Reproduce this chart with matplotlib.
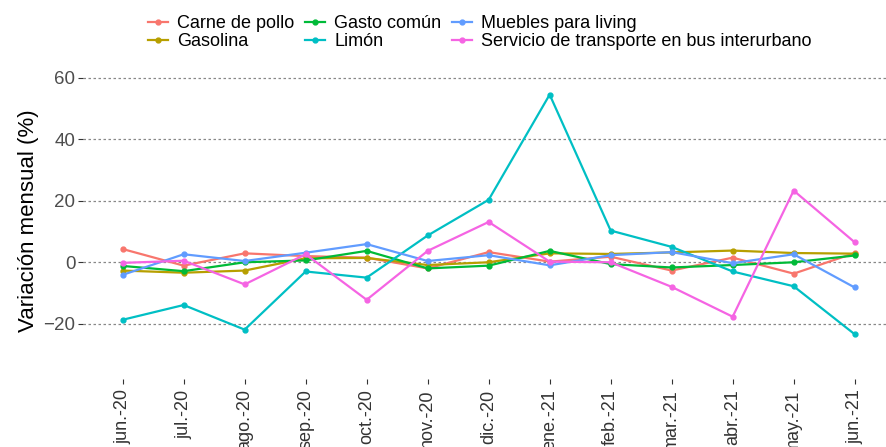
import numpy as np
import matplotlib
matplotlib.use("Agg")
import matplotlib.pyplot as plt

plt.rcParams['font.family'] = ['Liberation Sans', 'DejaVu Sans']

meses = ["jun.-20", "jul.-20", "ago.-20", "sep.-20", "oct.-20", "nov.-20", "dic.-20",
         "ene.-21", "feb.-21", "mar.-21", "abr.-21", "may.-21", "jun.-21"]

carne = [4.3, -1.1, 2.9, 2.0, 1.5, -2.0, 3.3, 0.2, 1.8, -2.7, 1.5, -3.7, 3.0]
gasolina = [-2.7, -3.4, -2.7, 1.3, 1.4, -0.9, 0.0, 2.9, 2.7, 3.2, 3.8, 3.0, 2.8]
gasto = [-1.2, -2.9, 0.0, 0.6, 3.7, -2.0, -1.1, 3.7, -0.6, -1.7, -0.9, 0.0, 2.2]
limon = [-18.7, -13.9, -21.9, -3.0, -5.0, 8.7, 20.3, 54.5, 10.3, 5.0, -3.0, -7.8, -23.4]
muebles = [-4.1, 2.6, 0.4, 3.1, 5.9, 0.4, 2.3, -1.0, 2.3, 3.3, -0.3, 2.6, -8.2]
bus = [-0.2, 0.5, -7.2, 2.6, -12.2, 3.7, 13.1, 0.2, 0.0, -8.0, -17.7, 23.3, 6.5]

series = [("Carne de pollo", carne, "#F8766D"),
          ("Gasolina", gasolina, "#B79F00"),
          ("Gasto común", gasto, "#00BA38"),
          ("Limón", limon, "#00BFC4"),
          ("Muebles para living", muebles, "#619CFF"),
          ("Servicio de transporte en bus interurbano", bus, "#F564E3")]

fig = plt.figure(figsize=(8.87, 4.47), dpi=100)
ax = fig.add_axes([83/887, 1 - 379/447, 1 - 83/887, (379 - 62)/447])

x = np.arange(len(meses))
for nombre, vals, col in series:
    ax.plot(x, vals, color=col, lw=1.6, marker='o', ms=3.5, label=nombre)

ax.set_xlim(-0.65, 12.53)
ax.set_ylim(-37.95, 65.1)
ax.set_yticks([-20, 0, 20, 40, 60])
ax.set_xticks(x)
ax.set_xticklabels(meses, rotation=90, fontsize=13, color='#333333')
ax.tick_params(axis='y', labelsize=13.5, labelcolor='#4D4D4D', color='#333333', length=3.5, pad=2)
ax.tick_params(axis='x', color='#333333', length=3.5, pad=4)
ax.grid(axis='y', color='#888888', ls=(0, (2, 2)), lw=0.9)
for s in ax.spines.values():
    s.set_visible(False)
ax.set_ylabel("Variación mensual (%)", fontsize=16, labelpad=3)

fig.legend(loc='upper left', bbox_to_anchor=(133/887, 1.0), ncol=3, frameon=False,
           fontsize=13, handlelength=1.1, handletextpad=0.5, columnspacing=0.6,
           labelspacing=0.05, borderaxespad=0.45)

fig.savefig("out.png", dpi=100)
